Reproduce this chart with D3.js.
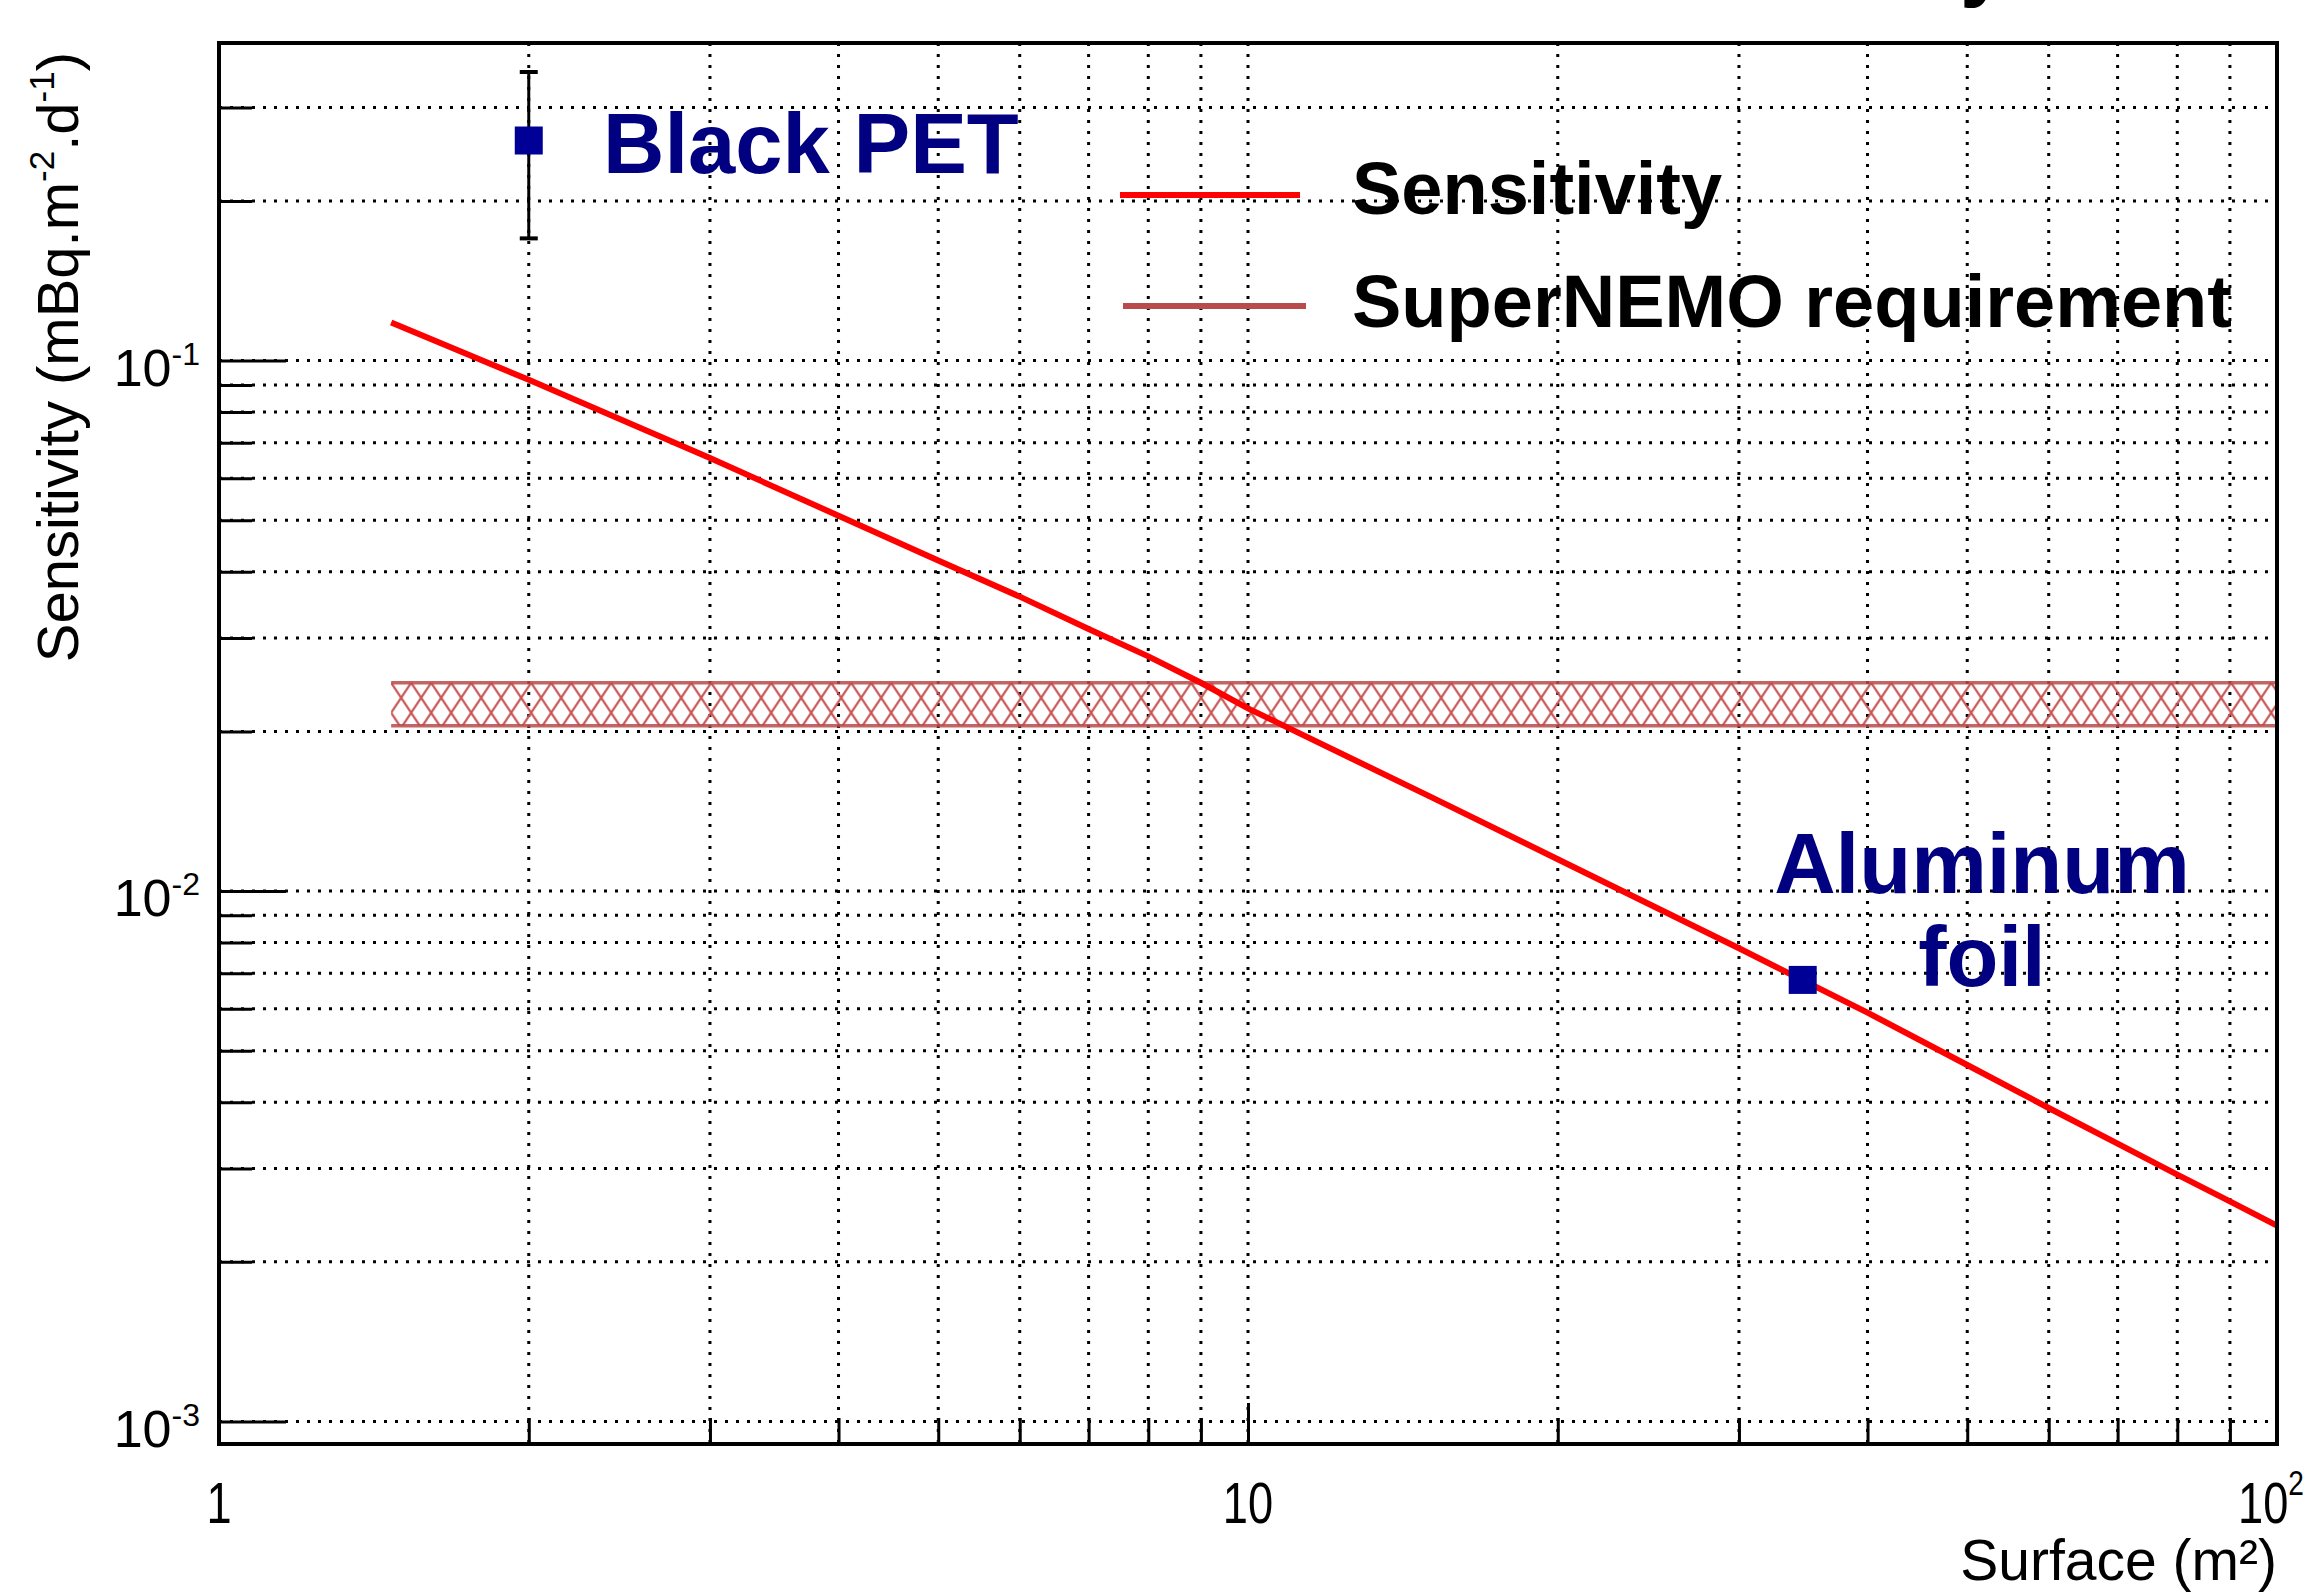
<!DOCTYPE html>
<html lang="en">
<head>
<meta charset="UTF-8">
<title>Sensitivity vs surface</title>
<script src="https://cdn.jsdelivr.net/npm/d3@7"></script>
<style>
  body { margin: 0; background: #fff; }
  text { font-family: "Liberation Sans", Arial, Helvetica, sans-serif; }
</style>
</head>
<body>
<script>
// values
var surface = [1.47, 2, 3, 4, 5, 6, 7, 8, 9, 10, 15, 20, 30, 40, 50, 60, 70, 80, 90, 100];
var sensitivity = [0.118, 0.092, 0.0655, 0.0510, 0.0420, 0.0359, 0.0312, 0.0277, 0.0247, 0.0221,
                   0.0151, 0.01148, 0.0078, 0.0059, 0.0047, 0.0039, 0.00334, 0.00292, 0.0026, 0.00234];
var bandSurface = [1.47, 100];
var bandLimits = [0.0205, 0.0247];          // SuperNEMO requirement
var petPoint = [2, 0.26];                   // Black PET
var petError = [0.09];
var alPoint = [34.6, 0.0068];               // Aluminum foil
var xMajor = [1, 10, 100];
var xMajorBase = ["1", "10", "10"];
var xMajorExp = ["", "", "2"];
var yMajor = [0.1, 0.01, 0.001];
var yMajorExp = ["-1", "-2", "-3"];

var W = 2317, H = 1594;
var L = 219, R = 2277, T = 43, B = 1444;
var navy = "#000080", markCol = "#000096", reqCol = "#b84b4b";

var svg = d3.select("body").append("svg").attr("width", W).attr("height", H);
svg.append("rect").attr("width", W).attr("height", H).attr("fill", "#fff");

var x = d3.scaleLog().domain([1, 100]).range([L, R]);
var y = d3.scaleLog().domain([9.07e-4, 0.397]).range([B, T]);

function isMajor(v) { return Math.abs(Math.log10(v) - Math.round(Math.log10(v))) < 1e-6; }

// grid
var grid = svg.append("g").attr("stroke", "#000").attr("stroke-width", 3).attr("stroke-dasharray", "3,8");
grid.selectAll(".gx").data(x.ticks().filter(function(d){ return d > 1 && d < 100; })).enter().append("line")
  .attr("x1", function(d){ return x(d); }).attr("x2", function(d){ return x(d); })
  .attr("y1", T).attr("y2", B);
grid.selectAll(".gy").data(y.ticks()).enter().append("line")
  .attr("y1", function(d){ return y(d); }).attr("y2", function(d){ return y(d); })
  .attr("x1", L).attr("x2", R);

// hatch pattern for requirement band
var defs = svg.append("defs");
var pat = defs.append("pattern").attr("id", "hatch").attr("patternUnits", "userSpaceOnUse")
  .attr("width", 20).attr("height", 30).attr("x", x(bandSurface[0])).attr("y", y(bandLimits[1]));
pat.append("path").attr("d", "M0,0L20,30M20,0L0,30M-10,15L0,0M20,30L30,15")
  .attr("stroke", "#c85555").attr("stroke-width", 2.2).attr("fill", "none");

var band = svg.append("g");
band.append("rect")
  .attr("x", x(bandSurface[0])).attr("width", x(bandSurface[1]) - x(bandSurface[0]))
  .attr("y", y(bandLimits[1])).attr("height", y(bandLimits[0]) - y(bandLimits[1]))
  .attr("fill", "url(#hatch)");
band.selectAll("line").data(bandLimits).enter().append("line")
  .attr("x1", x(bandSurface[0])).attr("x2", x(bandSurface[1]))
  .attr("y1", function(d){ return y(d); }).attr("y2", function(d){ return y(d); })
  .attr("stroke", reqCol).attr("stroke-width", 3.5).attr("opacity", 0.85);

// sensitivity curve
var pts = surface.map(function(s, i){ return [s, sensitivity[i]]; });
svg.append("path").datum(pts)
  .attr("d", d3.line().x(function(d){ return x(d[0]); }).y(function(d){ return y(d[1]); }))
  .attr("fill", "none").attr("stroke", "#ff0000").attr("stroke-width", 6);

// Black PET with error bar
var px = x(petPoint[0]);
svg.append("line").attr("x1", px).attr("x2", px)
  .attr("y1", y(petPoint[1] + petError[0])).attr("y2", y(petPoint[1] - petError[0]))
  .attr("stroke", "#000").attr("stroke-width", 3);
[petPoint[1] + petError[0], petPoint[1] - petError[0]].forEach(function(v){
  svg.append("line").attr("x1", px - 9).attr("x2", px + 9).attr("y1", y(v)).attr("y2", y(v))
    .attr("stroke", "#000").attr("stroke-width", 4);
});
svg.append("rect").attr("x", px - 14).attr("y", y(petPoint[1]) - 14).attr("width", 28).attr("height", 28)
  .attr("fill", markCol);

// Aluminum foil
svg.append("rect").attr("x", x(alPoint[0]) - 14).attr("y", y(alPoint[1]) - 14).attr("width", 28).attr("height", 28)
  .attr("fill", markCol);

// annotations
svg.append("text").attr("x", 603).attr("y", 173).attr("font-size", 85).attr("font-weight", "bold")
  .attr("fill", navy).text("Black PET");
var al = svg.append("text").attr("font-size", 85).attr("font-weight", "bold").attr("fill", navy)
  .attr("text-anchor", "middle");
al.append("tspan").attr("x", 1982).attr("y", 893).text("Aluminum");
al.append("tspan").attr("x", 1982).attr("y", 986).text("foil");

// legend
svg.append("line").attr("x1", 1120).attr("x2", 1300).attr("y1", 195).attr("y2", 195)
  .attr("stroke", "#ff0000").attr("stroke-width", 6);
svg.append("line").attr("x1", 1123).attr("x2", 1306).attr("y1", 306).attr("y2", 306)
  .attr("stroke", reqCol).attr("stroke-width", 6);
svg.append("text").attr("x", 1352).attr("y", 214).attr("font-size", 74).attr("font-weight", "bold").text("Sensitivity");
svg.append("text").attr("x", 1352).attr("y", 327).attr("font-size", 74).attr("font-weight", "bold").text("SuperNEMO requirement");

// cut title fragment at the very top
svg.append("text").attr("x", 1960).attr("y", -10).attr("font-size", 85).attr("font-weight", "bold").text("y");

// frame
svg.append("rect").attr("x", L).attr("y", T).attr("width", R - L).attr("height", B - T)
  .attr("fill", "none").attr("stroke", "#000").attr("stroke-width", 4);

// x ticks
var xt = svg.append("g").attr("transform", "translate(0," + B + ")");
xt.call(d3.axisBottom(x).tickValues(x.ticks().filter(function(d){ return !isMajor(d); })).tickSize(-26).tickFormat(""));
xt.call(function(g){ g.select(".domain").remove(); g.selectAll("line").attr("stroke-width", 3); });
var xt2 = svg.append("g").attr("transform", "translate(0," + B + ")");
xt2.call(d3.axisBottom(x).tickValues(xMajor).tickSize(-41).tickFormat(""));
xt2.call(function(g){ g.select(".domain").remove(); g.selectAll("line").attr("stroke-width", 3); });

// y ticks
var yt = svg.append("g").attr("transform", "translate(" + L + ",0)");
yt.call(d3.axisLeft(y).tickValues(y.ticks().filter(function(d){ return !isMajor(d); })).tickSize(-33).tickFormat(""));
yt.call(function(g){ g.select(".domain").remove(); g.selectAll("line").attr("stroke-width", 3); });
var yt2 = svg.append("g").attr("transform", "translate(" + L + ",0)");
yt2.call(d3.axisLeft(y).tickValues(yMajor).tickSize(-67).tickFormat(""));
yt2.call(function(g){ g.select(".domain").remove(); g.selectAll("line").attr("stroke-width", 3); });

// x tick labels (narrow glyphs)
xMajor.forEach(function(v, i){
  var g = svg.append("g").attr("transform", "translate(" + (x(v) + (xMajorExp[i] ? -6 : 0)) + ",1523) scale(0.78,1)");
  var t = g.append("text").attr("font-size", 58).attr("text-anchor", "middle");
  t.append("tspan").text(xMajorBase[i]);
  if (xMajorExp[i]) t.append("tspan").attr("font-size", 36).attr("dy", -28).text(xMajorExp[i]);
});

// y tick labels
yMajor.forEach(function(v, i){
  var t = svg.append("text").attr("x", 200).attr("y", y(v) + 25).attr("font-size", 52).attr("text-anchor", "end");
  t.append("tspan").text("10");
  t.append("tspan").attr("font-size", 32).attr("dy", -21).text(yMajorExp[i]);
});

// axis titles
svg.append("text").attr("x", R).attr("y", 1580).attr("font-size", 57).attr("text-anchor", "end").text("Surface (m²)");
var yl = svg.append("text").attr("transform", "translate(78,52) rotate(-90)").attr("font-size", 58)
  .attr("text-anchor", "end");
yl.append("tspan").text("Sensitivity (mBq.m");
yl.append("tspan").attr("font-size", 35).attr("dy", -24).text("-2");
yl.append("tspan").attr("dy", 24).text(".d");
yl.append("tspan").attr("font-size", 35).attr("dy", -24).text("-1");
yl.append("tspan").attr("dy", 24).text(")");
</script>
</body>
</html>
